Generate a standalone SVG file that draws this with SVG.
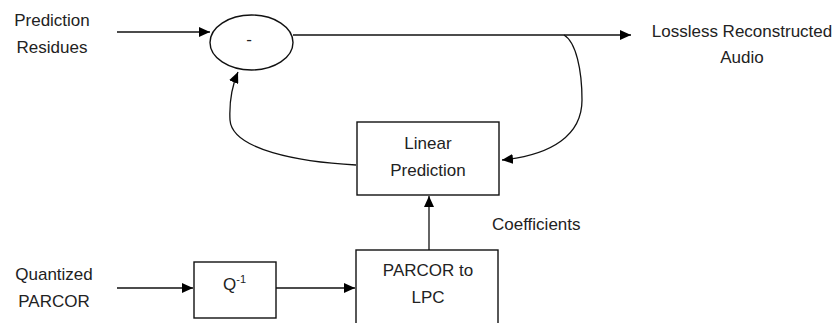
<svg xmlns="http://www.w3.org/2000/svg" width="834" height="323" viewBox="0 0 834 323">
<style>
text{font-family:"Liberation Sans",Arial,sans-serif;font-size:17px;fill:#222;}
.c{text-anchor:middle;}
.box{fill:#fff;stroke:#111;stroke-width:1.4;}
.ln{fill:none;stroke:#111;stroke-width:1.3;}
</style>
<defs>
<marker id="ah" markerUnits="userSpaceOnUse" markerWidth="12" markerHeight="10" refX="11" refY="5" orient="auto">
<path d="M0,0 L11,5 L0,10 Z" fill="#000"/>
</marker>
</defs>
<rect width="834" height="323" fill="#fff"/>
<g id="connectors">
<path class="ln" d="M117,32 H210" marker-end="url(#ah)"/>
<path class="ln" d="M293,35 H631" marker-end="url(#ah)"/>
<path class="ln" d="M564,35 C576,42 582,70 582,100 C582,135 552,155 502,160" marker-end="url(#ah)"/>
<path class="ln" d="M356,165 C300,162 232,150 230,120 C229,100 232,86 238,72" marker-end="url(#ah)"/>
<path class="ln" d="M117,288 H193" marker-end="url(#ah)"/>
<path class="ln" d="M276,288 H355" marker-end="url(#ah)"/>
<path class="ln" d="M429,250 V196" marker-end="url(#ah)"/>
</g>
<g id="label-prediction-residues">
<text class="c" x="52" y="26">Prediction</text>
<text class="c" x="52" y="53">Residues</text>
</g>
<g id="subtract">
<ellipse class="box" cx="251.5" cy="42.5" rx="41.5" ry="27.5"/>
<text class="c" x="249" y="45">-</text>
</g>
<g id="label-output">
<text class="c" x="742" y="37">Lossless Reconstructed</text>
<text class="c" x="742" y="63">Audio</text>
</g>
<g id="linear-prediction">
<rect class="box" x="357" y="122" width="142" height="73"/>
<text class="c" x="428" y="149">Linear</text>
<text class="c" x="428" y="176">Prediction</text>
</g>
<g id="label-coefficients">
<text x="492" y="230">Coefficients</text>
</g>
<g id="label-quantized-parcor">
<text class="c" x="54" y="280">Quantized</text>
<text class="c" x="54" y="307">PARCOR</text>
</g>
<g id="inverse-quantizer">
<rect class="box" x="194" y="262" width="82" height="56"/>
<text x="223" y="290">Q<tspan font-size="11" dy="-7">-1</tspan></text>
</g>
<g id="parcor-to-lpc">
<rect class="box" x="356" y="250" width="142" height="78"/>
<text class="c" x="428" y="276">PARCOR to</text>
<text class="c" x="428" y="303">LPC</text>
</g>
</svg>
